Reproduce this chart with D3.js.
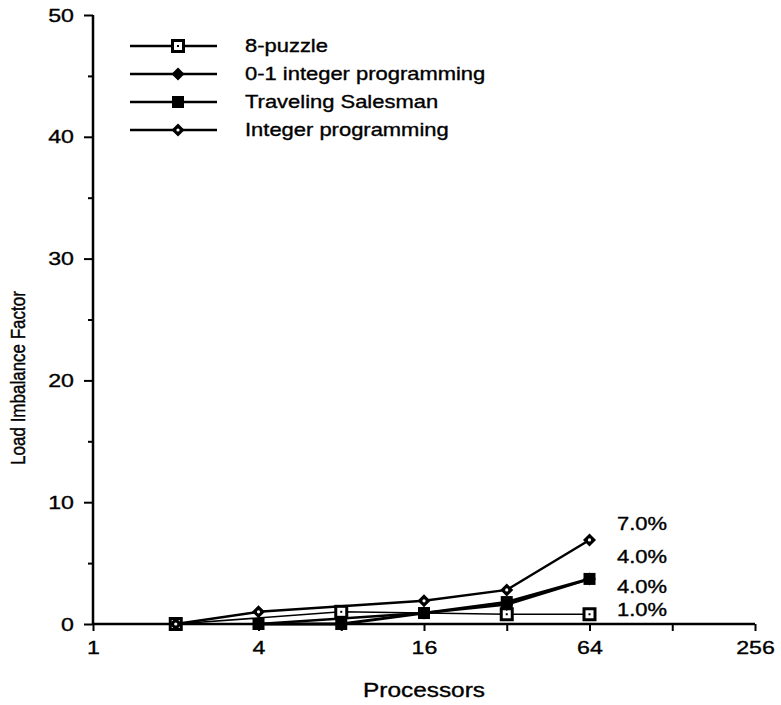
<!DOCTYPE html>
<html><head><meta charset="utf-8">
<script src="https://cdn.jsdelivr.net/npm/d3@7"></script>
<style>body{margin:0;background:#fff}text{font-family:"Liberation Sans",Arial,sans-serif;fill:#000;stroke:#000;stroke-width:0.35px}</style>
</head><body><svg id="c" width="781" height="705"></svg>
<script>
const seriesNames = ["8-puzzle","0-1 integer programming","Traveling Salesman","Integer programming"];
const puzzleX = [2,8,32,64], puzzleY = [0,1.0,0.8,0.8];
const zeroOneX = [4,16,32,64], zeroOneY = [0,0.9,1.6,3.7];
const tspX = [4,8,16,32,64], tspY = [0,0,0.9,1.8,3.7];
const ipX = [2,4,16,32,64], ipY = [0,1.0,1.9,2.8,6.9];
const xTickLabels = [1,4,16,64,256];
const xTicksAll = [1,2,4,8,16,32,64,128,256];
const yTickLabels = [0,10,20,30,40,50];
const yTicksMinor = [5,15,25,35,45];
const endLabels = ["7.0%","4.0%","4.0%","1.0%"];
const endLabelY = [8.2,5.5,3.1,1.2];

const SX = 1.22; // horizontal stretch of the original lettering
const svg = d3.select("#c");
const x = d3.scaleLog().base(2).domain([1,256]).range([93,755]);
const y = d3.scaleLinear().domain([0,50]).range([624,15]);

function stretchText(sel){
  sel.each(function(){
    const t = d3.select(this);
    const tx = +t.attr("x")||0, ty = +t.attr("y")||0;
    t.attr("x",0).attr("y",0).attr("transform",`translate(${tx},${ty}) scale(${SX},1)`);
  });
}

// axes
const ax = svg.append("g").attr("transform","translate(0,624)")
  .call(d3.axisBottom(x).tickValues(xTicksAll).tickSize(7).tickPadding(9).tickFormat(d=>xTickLabels.includes(d)?d:""));
ax.select(".domain").attr("stroke-width",2.5).attr("d","M93,0H755");
ax.selectAll(".tick line").attr("stroke-width",2);
ax.selectAll(".tick text").style("font-size","19px").style("font-family","Liberation Sans, Arial").call(stretchText);

const ay = svg.append("g").attr("transform","translate(93,0)")
  .call(d3.axisLeft(y).tickValues(yTickLabels).tickSize(9).tickPadding(10));
ay.select(".domain").attr("stroke-width",2.5).attr("d","M0,624V15");
ay.selectAll(".tick line").attr("stroke-width",2);
ay.selectAll(".tick text").style("font-size","19px").style("font-family","Liberation Sans, Arial").call(stretchText);
svg.append("g").attr("transform","translate(93,0)")
  .call(d3.axisLeft(y).tickValues(yTicksMinor).tickSize(5).tickFormat(""))
  .call(g=>{g.select(".domain").remove();g.selectAll("line").attr("stroke-width",2);});

// titles
svg.append("text").attr("transform",`translate(424,697) scale(${SX},1)`).attr("text-anchor","middle").style("font-size","20px").text("Processors");
svg.append("text").attr("transform",`translate(25,378) rotate(-90) scale(1,${SX})`).attr("text-anchor","middle").style("font-size","17px").text("Load Imbalance Factor");

const line = d3.line().x(d=>x(d[0])).y(d=>y(d[1]));
const series = [
  {xs:puzzleX, ys:puzzleY, w:1.6, m:"osq"},
  {xs:zeroOneX, ys:zeroOneY, w:2.5, m:"fdi"},
  {xs:tspX, ys:tspY, w:2.8, m:"fsq"},
  {xs:ipX, ys:ipY, w:2.5, m:"odi"}
];
function marker(g, type, cx, cy){
  if(type==="osq"){
    g.append("rect").attr("x",cx-5.5).attr("y",cy-5.5).attr("width",11).attr("height",11).attr("fill","#fff").attr("stroke","#000").attr("stroke-width",3);
    g.append("rect").attr("x",cx-1).attr("y",cy-1).attr("width",2).attr("height",2).attr("fill","#000");
  } else if(type==="fsq"){
    g.append("rect").attr("x",cx-6).attr("y",cy-6).attr("width",12).attr("height",12).attr("fill","#000");
  } else if(type==="fdi"){
    g.append("path").attr("d",`M${cx},${cy-6.5}L${cx+6.5},${cy}L${cx},${cy+6.5}L${cx-6.5},${cy}Z`).attr("fill","#000");
  } else {
    g.append("path").attr("d",`M${cx},${cy-6.5}L${cx+6.5},${cy}L${cx},${cy+6.5}L${cx-6.5},${cy}Z`).attr("fill","#000");
    g.append("circle").attr("cx",cx).attr("cy",cy).attr("r",1.6).attr("fill","#fff");
  }
}
series.forEach(s=>{
  const pts = s.xs.map((v,i)=>[v,s.ys[i]]);
  svg.append("path").attr("d",line(pts)).attr("fill","none").attr("stroke","#000").attr("stroke-width",s.w);
});
series.forEach(s=>{
  const g = svg.append("g");
  s.xs.forEach((v,i)=>marker(g,s.m,x(v),y(s.ys[i])));
});

// legend
const legY = [46,74,102,130];
seriesNames.forEach((n,i)=>{
  const g = svg.append("g");
  g.append("line").attr("x1",130).attr("x2",217).attr("y1",legY[i]).attr("y2",legY[i]).attr("stroke","#000").attr("stroke-width",2.5);
  marker(g, series[i].m, 178, legY[i]);
  g.append("text").attr("transform",`translate(245,${legY[i]}) scale(${SX},1)`).attr("dy","0.35em").style("font-size","18px").text(n);
});

// end labels
endLabels.forEach((t,i)=>{
  svg.append("text").attr("transform",`translate(617,${y(endLabelY[i])}) scale(${SX},1)`).attr("dy","0.35em").style("font-size","18px").text(t);
});
</script></body></html>
